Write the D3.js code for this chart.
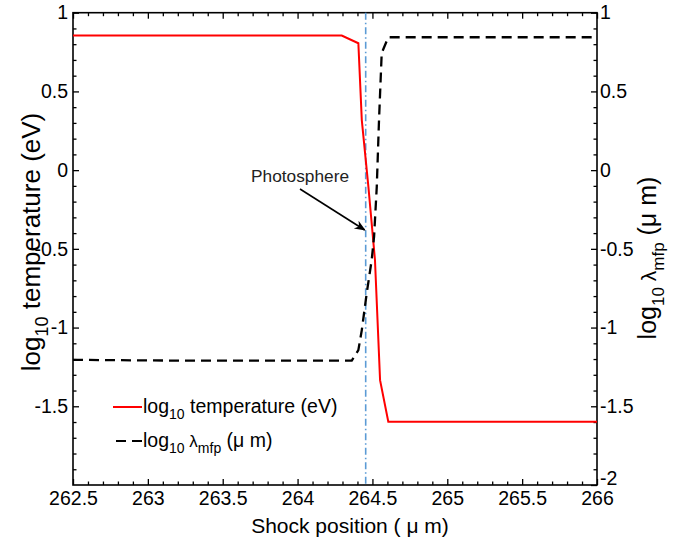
<!DOCTYPE html>
<html><head><meta charset="utf-8">
<script src="https://cdn.jsdelivr.net/npm/d3@7"></script>
<style>body{margin:0;background:#fff} text{font-family:"Liberation Sans",Arial,sans-serif}</style>
</head><body><svg id="c" width="684" height="541"></svg>
<script>
// ---- data ----
const xTickValues = [262.5, 263, 263.5, 264, 264.5, 265, 265.5, 266];
const yLeftTickValues = [1, 0.5, 0, -0.5, -1, -1.5];
const yRightTickValues = [1, 0.5, 0, -0.5, -1, -1.5, -2];
const tempX = [262.5, 264.295, 264.406, 264.429, 264.473, 264.517, 264.551, 264.606, 266];
const tempY = [0.855, 0.855, 0.806, 0.318, -0.105, -0.571, -1.334, -1.598, -1.598];
const mfpX = [262.5, 263.2, 264.362, 264.406, 264.429, 264.462, 264.495, 264.511, 264.529, 264.544, 264.562, 264.606, 266];
const mfpY = [-1.205, -1.21, -1.21, -1.143, -1.016, -0.781, -0.571, -0.423, -0.105, 0.318, 0.744, 0.844, 0.844];
const photosphereX = 264.455;
const photosphereLabel = "Photosphere";

// ---- scales ----
const L = 73, R = 597, T = 12.7, B = 485;
const svg = d3.select('#c');
const x = d3.scaleLinear().domain([262.5, 266]).range([L, R]);
const y = d3.scaleLinear().domain([-2, 1]).range([B, T]);
const minorX = x.ticks(35).filter(v => !xTickValues.some(t => Math.abs(t - v) < 1e-6));
const minorY = y.ticks(30).filter(v => !yRightTickValues.some(t => Math.abs(t - v) < 1e-6));
const fmt = d => String(d);

function styleAxis(g) {
  g.select('.domain').remove();
  g.selectAll('line').attr('stroke', '#000').attr('stroke-width', 1.3);
  g.selectAll('text').attr('font-size', 19.5).attr('fill', '#000')
    .attr('font-family', '"Liberation Sans",Arial,sans-serif');
}
// bottom
svg.append('g').attr('transform', `translate(0,${B})`)
  .call(d3.axisBottom(x).tickValues(xTickValues).tickSizeInner(-6).tickSizeOuter(0).tickPadding(6).tickFormat(fmt))
  .call(styleAxis);
svg.append('g').attr('transform', `translate(0,${B})`)
  .call(d3.axisBottom(x).tickValues(minorX).tickSizeInner(-3.5).tickSizeOuter(0).tickFormat(''))
  .call(styleAxis);
// top
svg.append('g').attr('transform', `translate(0,${T})`)
  .call(d3.axisTop(x).tickValues(xTickValues).tickSizeInner(-6).tickSizeOuter(0).tickFormat(''))
  .call(styleAxis);
svg.append('g').attr('transform', `translate(0,${T})`)
  .call(d3.axisTop(x).tickValues(minorX).tickSizeInner(-3.5).tickSizeOuter(0).tickFormat(''))
  .call(styleAxis);
// left
svg.append('g').attr('transform', `translate(${L},0)`)
  .call(d3.axisLeft(y).tickValues(yLeftTickValues).tickSizeInner(-6).tickSizeOuter(0).tickPadding(5).tickFormat(fmt))
  .call(styleAxis);
svg.append('g').attr('transform', `translate(${L},0)`)
  .call(d3.axisLeft(y).tickValues(minorY).tickSizeInner(-3.5).tickSizeOuter(0).tickFormat(''))
  .call(styleAxis);
// right
const rightAxis = svg.append('g').attr('transform', `translate(${R},0)`)
  .call(d3.axisRight(y).tickValues(yRightTickValues).tickSizeInner(-6).tickSizeOuter(0).tickPadding(3).tickFormat(fmt))
  .call(styleAxis);
rightAxis.selectAll('.tick').filter(d => d === -2).select('text').attr('dy', '-0.05em');
svg.append('g').attr('transform', `translate(${R},0)`)
  .call(d3.axisRight(y).tickValues(minorY).tickSizeInner(-3.5).tickSizeOuter(0).tickFormat(''))
  .call(styleAxis);

// frame
svg.append('rect').attr('x', L).attr('y', T).attr('width', R - L).attr('height', B - T)
  .attr('fill', 'none').attr('stroke', '#000').attr('stroke-width', 1.6);

// photosphere line
svg.append('line').attr('x1', x(photosphereX)).attr('x2', x(photosphereX)).attr('y1', T).attr('y2', B)
  .attr('stroke', '#5b9bd5').attr('stroke-width', 1.6).attr('stroke-dasharray', '7,3,1.5,3');

const line = d3.line().x(d => x(d[0])).y(d => y(d[1]));
svg.append('path').datum(tempX.map((v, i) => [v, tempY[i]])).attr('d', line)
  .attr('fill', 'none').attr('stroke', '#ff0000').attr('stroke-width', 2);
svg.append('path').datum(mfpX.map((v, i) => [v, mfpY[i]])).attr('d', line)
  .attr('fill', 'none').attr('stroke', '#000').attr('stroke-width', 2.3).attr('stroke-dasharray', '10,6');

// annotation
svg.append('defs').append('marker').attr('id', 'ah').attr('viewBox', '0 0 10 10').attr('refX', 9).attr('refY', 5)
  .attr('markerWidth', 7).attr('markerHeight', 7).attr('orient', 'auto')
  .append('path').attr('d', 'M0,1 L10,5 L0,9 L3,5 Z').attr('fill', '#000');
svg.append('text').attr('x', 251).attr('y', 182).text(photosphereLabel)
  .attr('font-size', 17).attr('font-family', '"Open Sans","Noto Sans",sans-serif').attr('fill', '#222')
  .attr('textLength', 98).attr('lengthAdjust', 'spacingAndGlyphs');
svg.append('line').attr('x1', 300).attr('y1', 189).attr('x2', x(photosphereX) - 1).attr('y2', 230)
  .attr('stroke', '#000').attr('stroke-width', 1.6).attr('marker-end', 'url(#ah)');

// legend
const lg = svg.append('g');
lg.append('line').attr('x1', 113).attr('x2', 142).attr('y1', 407).attr('y2', 407).attr('stroke', '#ff0000').attr('stroke-width', 2);
lg.append('line').attr('x1', 116).attr('x2', 142).attr('y1', 441).attr('y2', 441).attr('stroke', '#000').attr('stroke-width', 2).attr('stroke-dasharray', '10,6');
const t1 = lg.append('text').attr('x', 143).attr('y', 413).attr('font-size', 19.5);
t1.append('tspan').text('log');
t1.append('tspan').attr('font-size', 14).attr('dy', 6).text('10');
t1.append('tspan').attr('dy', -6).text(' temperature (eV)');
const t2 = lg.append('text').attr('x', 143).attr('y', 447).attr('font-size', 19.5);
t2.append('tspan').text('log');
t2.append('tspan').attr('font-size', 14).attr('dy', 6).text('10');
t2.append('tspan').attr('dy', -6).attr('font-size', 17).text('  λ');
t2.append('tspan').attr('font-size', 14).attr('dy', 6).text('mfp');
t2.append('tspan').attr('dy', -6).text('  (μ m)');

// axis titles
svg.append('text').attr('x', 350).attr('y', 533).attr('text-anchor', 'middle').attr('font-size', 21).text('Shock position ( μ m)');
const yl = svg.append('text').attr('transform', 'translate(40,242) rotate(-90)').attr('text-anchor', 'middle').attr('font-size', 26);
yl.append('tspan').text('log');
yl.append('tspan').attr('font-size', 18).attr('dy', 8).text('10');
yl.append('tspan').attr('dy', -8).text(' temperature (eV)');
const yr = svg.append('text').attr('transform', 'translate(656,258) rotate(-90)').attr('text-anchor', 'middle').attr('font-size', 25);
yr.append('tspan').text('log');
yr.append('tspan').attr('font-size', 17).attr('dy', 8).text('10');
yr.append('tspan').attr('dy', -8).attr('font-size', 21).text(' λ');
yr.append('tspan').attr('font-size', 17).attr('dy', 8).text('mfp');
yr.append('tspan').attr('dy', -8).text(' (μ m)');
</script></body></html>
